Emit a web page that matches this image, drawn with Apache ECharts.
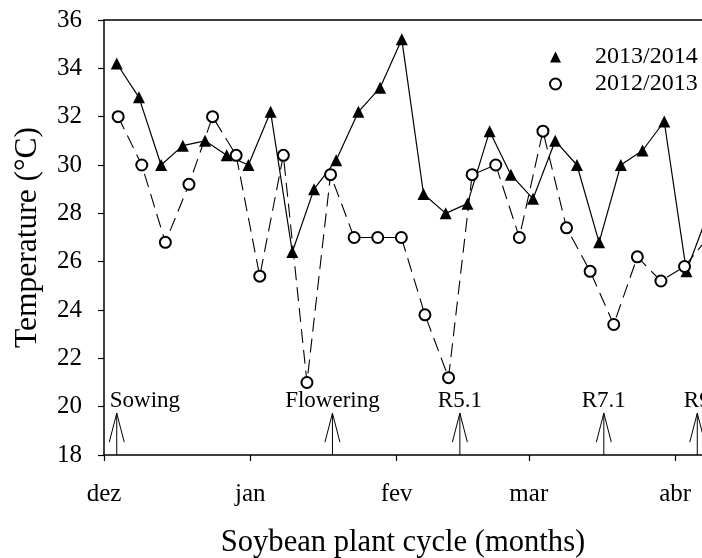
<!DOCTYPE html>
<html>
<head>
<meta charset="utf-8">
<script src="https://cdn.jsdelivr.net/npm/echarts@6/dist/echarts.min.js"></script>
<style>html,body{margin:0;padding:0;background:#fff}#c{width:702px;height:558px}</style>
</head>
<body>
<div id="c"></div>
<script>
// Month ticks (days since 1 December)
const months = ['dez', 'jan', 'fev', 'mar', 'abr'];
const monthDays = [0, 31, 62, 90, 121];

// 2013/2014 season
const days1314 = [2.7, 7.4, 12.1, 16.7, 21.4, 26.0, 30.6, 35.3, 39.9, 44.5, 49.2, 53.9, 58.5, 63.1,
                  67.7, 72.4, 77.0, 81.7, 86.2, 90.9, 95.6, 100.2, 104.9, 109.5, 114.1, 118.7, 123.4, 128.0];
const temp1314 = [34.2, 32.8, 30.0, 30.8, 31.0, 30.4, 30.0, 32.2, 26.4, 29.0, 30.2, 32.2, 33.2, 35.2,
                  28.8, 28.0, 28.4, 31.4, 29.6, 28.6, 31.0, 30.0, 26.8, 30.0, 30.6, 31.8, 25.6, 28.0];

// 2012/2013 season
const days1213 = [3, 8, 13, 18, 23, 28, 33, 38, 43, 48, 53, 58, 63, 68, 73, 78, 83, 88, 93, 98,
                  103, 108, 113, 118, 123, 128];
const temp1213 = [32.0, 30.0, 26.8, 29.2, 32.0, 30.4, 25.4, 30.4, 21.0, 29.6, 27.0, 27.0, 27.0, 23.8,
                  21.2, 29.6, 30.0, 27.0, 31.4, 27.4, 25.6, 23.4, 26.2, 25.2, 25.8, 27.0];

// Phenological stages
const stageNames = ['Sowing', 'Flowering', 'R5.1', 'R7.1', 'R9'];
const stageDays = [2.7, 48.4, 75.4, 105.9, 125.7];

const FF = '"Liberation Serif", "Times New Roman", serif';
const XMAX = 126.7;

const chart = echarts.init(document.getElementById('c'), null, {renderer: 'canvas'});
const axisLine = {show: true, lineStyle: {color: '#000', width: 1.5}};

chart.setOption({
  animation: false,
  backgroundColor: '#fff',
  grid: {left: 104, right: 0, top: 20, bottom: 103, containLabel: false, outerBoundsMode: 'none'},
  legend: {
    orient: 'vertical', left: 544, top: 40,
    itemWidth: 11, itemHeight: 11, itemGap: 3,
    data: [{name: '2013/2014', icon: 'triangle'}, {name: '2012/2013', icon: 'emptyCircle'}],
    textStyle: {fontFamily: FF, fontSize: 24, color: '#000', padding: [0, 0, 0, 29]}
  },
  xAxis: [{
    type: 'value', min: 0, max: XMAX,
    axisLine: axisLine,
    axisTick: {show: true, customValues: monthDays, length: 6, lineStyle: {color: '#000', width: 1.2}},
    axisLabel: {customValues: monthDays, formatter: v => months[monthDays.indexOf(v)],
                margin: 27, color: '#000', fontSize: 25, fontFamily: FF},
    splitLine: {show: false},
    name: 'Soybean plant cycle (months)', nameLocation: 'middle', nameGap: 72,
    nameTextStyle: {fontFamily: FF, fontSize: 30.6, color: '#000'}
  }, {
    type: 'value', position: 'top', min: 0, max: XMAX,
    axisLine: axisLine, axisTick: {show: false}, axisLabel: {show: false}, splitLine: {show: false}
  }],
  yAxis: {
    type: 'value', min: 18, max: 36, interval: 2,
    axisLine: axisLine,
    axisTick: {show: true, length: 6, lineStyle: {color: '#000', width: 1.2}},
    axisLabel: {margin: 22, color: '#000', fontSize: 25, fontFamily: FF},
    splitLine: {show: false},
    name: 'Temperature (°C)', nameLocation: 'middle', nameGap: 60, nameRotate: 90,
    nameTextStyle: {fontFamily: FF, fontSize: 31.5, color: '#000'}
  },
  series: [{
    name: '2013/2014', type: 'line',
    data: days1314.map((d, i) => [d, temp1314[i]]),
    symbol: 'triangle', symbolSize: 12, showAllSymbol: true,
    itemStyle: {color: '#000'},
    lineStyle: {color: '#000', width: 1.2},
    z: 3
  }, {
    name: '2012/2013', type: 'line',
    data: days1213.map((d, i) => [d, temp1213[i]]),
    symbol: 'emptyCircle', symbolSize: 11, showAllSymbol: true,
    itemStyle: {color: '#000', borderWidth: 1.2},
    lineStyle: {color: '#000', width: 1.1, type: [14, 7]},
    z: 4
  }, {
    name: 'stages', type: 'custom',
    data: stageDays.map(d => [d, 18]),
    clip: false, silent: true,
    renderItem: function (params, api) {
      const i = params.dataIndex;
      const base = api.coord([api.value(0), 18]);
      const tip = api.coord([api.value(0), 19.73]);
      return {
        type: 'group',
        children: [
          {type: 'line', shape: {x1: base[0], y1: base[1], x2: tip[0], y2: tip[1]},
           style: {stroke: '#000', lineWidth: 1}},
          {type: 'polyline', shape: {points: [[tip[0] - 7.5, tip[1] + 29], [tip[0], tip[1]], [tip[0] + 7.5, tip[1] + 29]]},
           style: {stroke: '#000', fill: null, lineWidth: 1}},
          {type: 'text', x: i === 0 ? tip[0] - 7 : tip[0], y: tip[1] - 12,
           style: {text: stageNames[i], fill: '#000', font: '23px ' + FF,
                   align: i === 0 ? 'left' : 'center', verticalAlign: 'middle'}}
        ]
      };
    },
    z: 2
  }]
});
</script>
</body>
</html>
